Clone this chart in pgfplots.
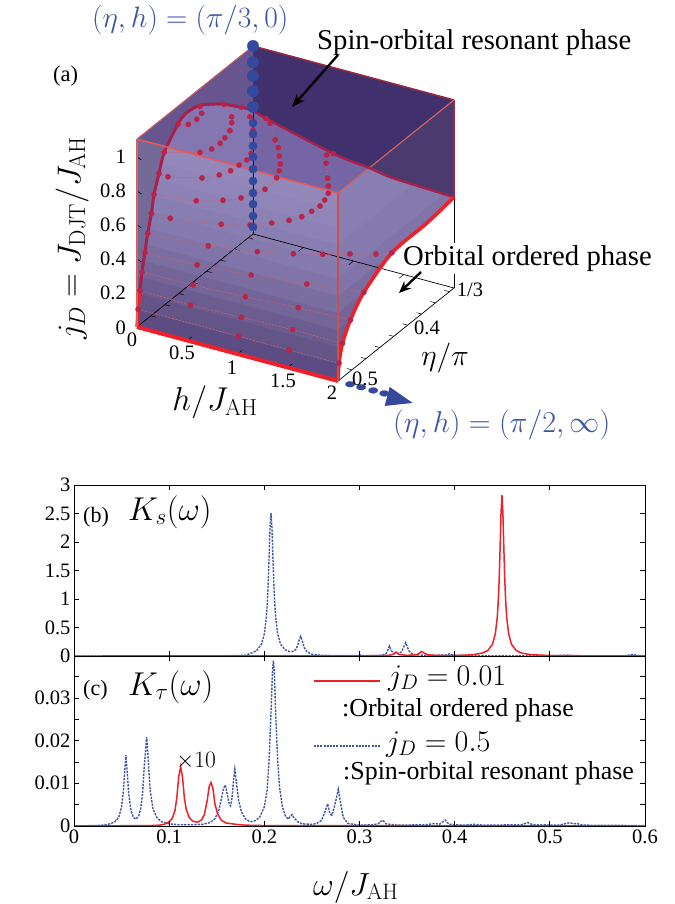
\documentclass[border=0pt]{standalone}
\usepackage{fix-cm}
\usepackage[no-math]{fontspec}
\setmainfont{Liberation Serif}
\usepackage{pgfplots}
\pgfplotsset{compat=1.18}
\usetikzlibrary{arrows.meta}
\definecolor{dkback}{HTML}{41306E}
\definecolor{wedge}{HTML}{66558F}
\definecolor{dkright}{HTML}{4A3A6E}
\definecolor{topmid}{HTML}{7565A5}
\definecolor{toplt}{HTML}{8476B1}
\definecolor{leftov}{HTML}{736A98}
\definecolor{crim}{HTML}{AA1F4C}
\definecolor{dot}{HTML}{B8244A}
\definecolor{hot}{HTML}{F0202A}
\definecolor{blu}{HTML}{34489C}
\definecolor{blt}{HTML}{3D55A5}
\definecolor{lred}{HTML}{D0606F}
\definecolor{edgeF}{HTML}{E8585A}
\definecolor{edgeV}{HTML}{C9504E}
\definecolor{edgeL}{HTML}{D4605F}
\definecolor{edgeB}{HTML}{9C2A3F}
% colour of the wall at height j_D (bands)
\definecolor{b0}{HTML}{5B4D83}
\definecolor{b1}{HTML}{635588}
\definecolor{b2}{HTML}{6B5D90}
\definecolor{b3}{HTML}{736598}
\definecolor{b4}{HTML}{7A6DA0}
\definecolor{b5}{HTML}{8074A8}
\definecolor{b6}{HTML}{857AAD}
\definecolor{b7}{HTML}{897EB1}
\definecolor{b8}{HTML}{8D82B5}
\definecolor{b9}{HTML}{9085B8}
\definecolor{b10}{HTML}{9488BB}
\newcommand{\fs}[1]{\fontsize{#1}{#1}\selectfont}
\pgfplotsset{
 contour/.style={lred,line width=0.6pt,dash pattern=on 2pt off 1.5pt,smooth,tension=0.5,mark=*,mark size=2.7pt,
   mark options={solid,fill=dot,draw=dot,line width=0.2pt}},
 panel/.style={scale only axis,width=571pt,xmin=0,xmax=0.6,xtick={0,0.1,0.2,0.3,0.4,0.5,0.6},
   tick pos=both,tick align=inside,major tick length=5pt,minor tick length=5pt,
   tick style={black,line width=0.7pt},axis line style={line width=1pt},axis on top,
   scaled ticks=false,
   tick label style={font=\fs{20.5}},/pgf/number format/assume math mode=true},
 rl/.style={hot,line width=1.5pt,sharp plot},
 bl/.style={blt,line width=1.4pt,dash pattern=on 2.2pt off 1.2pt,sharp plot},
}
\begin{document}
\begin{tikzpicture}[x=1pt,y=1pt]
\path[use as bounding box] (0pt,0pt) rectangle (674pt,-904pt);

% (a): x = h/J_AH, y = 6(1/2 - eta/pi) (0 at eta=pi/2, 1 at eta=pi/3), z = j_D
\begin{axis}[anchor=origin,at={(137pt,-327pt)},hide axis,clip=false,
  x={(100.5pt,-27pt)},y={(116pt,93pt)},z={(0pt,170pt)},
  xmin=0,xmax=2,ymin=0,ymax=1,zmin=0,zmax=1.106]
% faces
\addplot3[fill=dkback,draw=none] coordinates {(0,1,1.106)(2,1,1.106)(2,1,.535)(1.393,1,.55)(1.16,1,.572)(.8,1,.6)(.13,1,.7)(0,1,.73)};
\addplot3[fill=wedge,draw=none] coordinates {(0,0,1.106)(0,1,1.106)(0,1,.73)(0,.9,.8)(0,.75,.9)(0,.63,.966)(0,.526,1.013)(0,.414,1.026)(0,.353,1.0)(0,.235,.9)(0,.19,.8)(0,.147,.7)(0,.124,.6)(0,.092,.5)(0,.068,.4)(0,.043,.3)(0,.026,.2)(0,.009,.1)(0,0,0)};
\addplot3[fill=dkright,draw=none] coordinates {(2,1,1.106)(2,1,.535)(1.393,1,.55)(1.16,1,.572)};
\addplot3[fill=topmid,draw=none] coordinates {(.289,0,1.106)(0,.25,.915)(0,.353,1.0)(0,.414,1.026)(0,.526,1.013)(0,.63,.966)(0,.75,.9)(0,.9,.8)(0,1,.73)(.13,1,.7)(.8,1,.6)(1.16,1,.572)(2,0,1.106)};
\addplot3[fill=toplt,draw=none] coordinates {(.289,0,1.106)(0,.25,.915)(0,.353,1.0)(0,.414,1.026)(0,.526,1.013)(0,.63,.966)(0,.75,.9)(0,.9,.8)(0,1,.73)(1.154,0,1.106)};
% front wall, bands from the floor up
\addplot3[fill=b0,draw=none] coordinates {(0,0,0)(2,0,0)(2,0,1.106)(0,0,1.106)};
\addplot3[fill=b1,draw=none] coordinates {(0,0,.1)(2,0,.1)(2,0,1.106)(0,0,1.106)};
\addplot3[fill=b2,draw=none] coordinates {(0,0,.2)(2,0,.2)(2,0,1.106)(0,0,1.106)};
\addplot3[fill=b3,draw=none] coordinates {(0,0,.3)(2,0,.3)(2,0,1.106)(0,0,1.106)};
\addplot3[fill=b4,draw=none] coordinates {(0,0,.4)(2,0,.4)(2,0,1.106)(0,0,1.106)};
\addplot3[fill=b5,draw=none] coordinates {(0,0,.5)(2,0,.5)(2,0,1.106)(0,0,1.106)};
\addplot3[fill=b6,draw=none] coordinates {(0,0,.6)(2,0,.6)(2,0,1.106)(0,0,1.106)};
\addplot3[fill=b7,draw=none] coordinates {(0,0,.7)(2,0,.7)(2,0,1.106)(0,0,1.106)};
\addplot3[fill=b8,draw=none] coordinates {(0,0,.8)(2,0,.8)(2,0,1.106)(0,0,1.106)};
\addplot3[fill=b9,draw=none] coordinates {(0,0,.9)(2,0,.9)(2,0,1.106)(0,0,1.106)};
\addplot3[fill=b10,draw=none] coordinates {(0,0,1)(2,0,1)(2,0,1.106)(0,0,1.106)};
\addplot3[fill=leftov,draw=none] coordinates {(0,0,.3)(0,0,1.106)(.289,0,1.106)(0,.25,.915)(0,.235,.9)(0,.19,.8)(0,.147,.7)(0,.124,.6)(0,.092,.5)(0,.068,.4)(0,.043,.3)};
% right wall, bands from the floor up
\addplot3[fill=b0,draw=none] coordinates {(2,0,0)(2,0,1.106)(2,.276,1.106)(2,.474,.935)(2,1,.535)(2,.767,.51)(2,.465,.5)(2,.223,.4)(2,.107,.3)(2,.038,.2)(2,.009,.1)};
\addplot3[fill=b1,draw=none] coordinates {(2,0,.1)(2,0,1.106)(2,.276,1.106)(2,.474,.935)(2,1,.535)(2,.767,.51)(2,.465,.5)(2,.223,.4)(2,.107,.3)(2,.038,.2)(2,.009,.1)};
\addplot3[fill=b2,draw=none] coordinates {(2,0,.2)(2,0,1.106)(2,.276,1.106)(2,.474,.935)(2,1,.535)(2,.767,.51)(2,.465,.5)(2,.223,.4)(2,.107,.3)(2,.038,.2)};
\addplot3[fill=b3,draw=none] coordinates {(2,0,.3)(2,0,1.106)(2,.276,1.106)(2,.474,.935)(2,1,.535)(2,.767,.51)(2,.465,.5)(2,.223,.4)(2,.107,.3)};
\addplot3[fill=b4,draw=none] coordinates {(2,0,.4)(2,0,1.106)(2,.276,1.106)(2,.474,.935)(2,1,.535)(2,.767,.51)(2,.465,.5)(2,.223,.4)};
\addplot3[fill=b5,draw=none] coordinates {(2,0,.5)(2,0,1.106)(2,.276,1.106)(2,.474,.935)(2,1,.535)(2,.767,.51)(2,.465,.5)};
\addplot3[fill=b6,draw=none] coordinates {(2,0,.6)(2,0,1.106)(2,.276,1.106)(2,.474,.935)(2,.915,.6)};
\addplot3[fill=b7,draw=none] coordinates {(2,0,.8)(2,0,1.106)(2,.276,1.106)(2,.474,.935)(2,.652,.8)};
% floor and back lines
\addplot3[black,line width=0.7pt] coordinates {(0,0,0)(0,1,0)(2,1,0)(2,0,0)};
\addplot3[black,line width=0.7pt] coordinates {(2,1,.535)(2,1,.265)};
\addplot3[black,line width=0.7pt] coordinates {(2,1,.085)(2,1,0)};
\addplot3[black,line width=0.7pt] coordinates {(0,1,0)(0,1,.74)};
\pgfplotsinvokeforeach{.12,.24,.36,.48,.6,.72,.84,.96}{
  \draw[black,line width=0.5pt] (axis cs:0,#1,0) -- (axis cs:.05,#1,0);
  \draw[black,line width=0.5pt] (axis cs:2,#1,0) -- (axis cs:1.95,#1,0);
}
\pgfplotsinvokeforeach{.5,1,1.5}{
  \draw[black,line width=0.5pt] (axis cs:#1,1,0) -- (axis cs:#1,.96,0);
  \draw[black,line width=0.5pt] (axis cs:#1,0,0) -- (axis cs:#1,.04,0);
}
\pgfplotsinvokeforeach{.2,.4,.6,.8,1}{
  \draw[black,line width=0.6pt] (axis cs:0,0,#1) -- (axis cs:.06,-.014,#1);
}
% box edges
\addplot3[color=edgeB,line width=1.5pt] coordinates {(0,1,1.106)(2,1,1.106)};
\addplot3[color=edgeB,line width=1.2pt] coordinates {(2,1,1.106)(2,1,.535)};
\addplot3[color=edgeL,line width=1pt] coordinates {(0,0,1.106)(0,1,1.106)};
\addplot3[color=edgeL,line width=1.2pt] coordinates {(2,0,1.106)(2,1,1.106)};
% constant j_D contours
\addplot3[contour] coordinates {(0,.009,.1)(1,.008,.1)(1.505,.007,.1)(2,.009,.1)};
\addplot3[contour] coordinates {(0,.026,.2)(.509,.019,.2)(1.003,.03,.2)(1.5,.041,.2)(2,.038,.2)};
\addplot3[contour] coordinates {(0,.043,.3)(.5,.049,.3)(1,.068,.3)(1.497,.094,.3)(2,.107,.3)};
\addplot3[contour] coordinates {(0,.068,.4)(.503,.082,.4)(1,.118,.4)(1.497,.166,.4)(2,.223,.4)};
\addplot3[contour] coordinates {(0,.092,.5)(.566,.124,.5)(.987,.182,.5)(1.274,.244,.5)(1.498,.303,.5)(1.699,.364,.5)(1.893,.42,.5)(2,.465,.5)};
\addplot3[contour] coordinates {(0,.124,.6)(.186,.126,.6)(.621,.188,.6)(.842,.245,.6)(.985,.307,.6)(1.089,.367,.6)(1.151,.423,.6)(1.175,.488,.6)(1.187,.549,.6)(1.167,.607,.6)(1.131,.669,.6)(1.063,.728,.6)(.987,.789,.6)(.835,.906,.6)(.763,.974,.6)(.8,1,.6)};
\addplot3[contour] coordinates {(0,.147,.7)(.374,.187,.7)(.569,.248,.7)(.682,.306,.7)(.78,.428,.7)(.759,.546,.7)(.714,.608,.7)(.659,.664,.7)(.578,.727,.7)(.492,.792,.7)(.397,.847,.7)(.204,.97,.7)(.13,1,.7)};
\addplot3[contour] coordinates {(0,.19,.8)(.098,.182,.8)(.363,.246,.8)(.464,.307,.8)(.509,.366,.8)(.52,.43,.8)(.53,.487,.8)(.5,.551,.8)(.298,.742,.8)(.151,.843,.8)(0,.9,.8)};
\addplot3[contour] coordinates {(0,.235,.9)(.268,.311,.9)(.325,.363,.9)(.334,.427,.9)(.319,.482,.9)(.29,.55,.9)(.229,.618,.9)(.173,.666,.9)(0,.75,.9)};
\addplot3[contour] coordinates {(0,.353,1)(.078,.374,1)(.095,.433,1)(.076,.492,1)(0,.543,1)};
% phase boundaries
\addplot3[hot,line width=3.4pt] coordinates {(0,.026,.2)(0,.009,.1)(0,0,0)};
\addplot3[crim,line width=3pt,smooth,tension=0.5] coordinates {(0,.026,.2)(0,.043,.3)(0,.068,.4)(0,.092,.5)(0,.124,.6)(0,.147,.7)(0,.19,.8)(0,.235,.9)(0,.353,1.0)(0,.414,1.026)(0,.526,1.013)(0,.63,.966)(0,.75,.9)(0,.9,.8)(0,1,.73)};
\addplot3[crim,line width=2.4pt,smooth,tension=0.5] coordinates {(0,1,.73)(.13,1,.7)(.8,1,.6)(1.16,1,.572)(1.393,1,.55)(2,1,.535)};
\addplot3[hot,line width=3.6pt,smooth,tension=0.5] coordinates {(2,1,.535)(2,.767,.51)(2,.465,.5)(2,.223,.4)(2,.107,.3)(2,.038,.2)(2,.009,.1)(2,0,0)};
\addplot3[hot,line width=4pt] coordinates {(0,0,0)(2,0,0)};
% front edges, above the boundaries
\addplot3[color=edgeF,line width=1.6pt] coordinates {(0,0,1.106)(2,0,1.106)};
\addplot3[color=edgeV,line width=2.8pt] coordinates {(2,0,1.106)(2,0,0)};
\addplot3[color=edgeL,line width=1.8pt] coordinates {(0,0,1.106)(0,0,0)};
% dots on the line (eta,h)=(pi/3,0)
\addplot3[only marks,mark=*,mark size=4.2pt,mark options={fill=blu,draw=blu,line width=0.2pt}] coordinates {(0,1,.041)(0,1,.106)(0,1,.176)(0,1,.241)(0,1,.312)(0,1,.382)(0,1,.453)(0,1,.518)(0,1,.588)(0,1,.653)};
\addplot3[only marks,mark=*,mark size=5.8pt,mark options={fill=blu,draw=blu,line width=0.2pt}] coordinates {(0,1,.747)(0,1,.84)(0,1,.93)(0,1,1.01)(0,1,1.106)};
% dots towards (eta,h)=(pi/2,infinity)
\addplot3[only marks,mark=*,mark size=3pt,mark options={fill=blu,draw=blu,line width=0.2pt,xscale=1.6,rotate=15}] coordinates {(2.12,0,0)(2.23,0,0)(2.35,0,0)(2.46,0,0)};
\addplot3[fill=blu,draw=none] coordinates {(2.44,.064,0)(2.76,-.015,0)(2.58,-.1,0)};
\end{axis}

% (a): axis texts
\begin{scope}[every node/.style={inner sep=0pt,font=\fs{20.5}}]
\node[anchor=east] at (126pt,-157pt) {1};
\node[anchor=east] at (126pt,-191pt) {0.8};
\node[anchor=east] at (126pt,-225pt) {0.6};
\node[anchor=east] at (126pt,-259pt) {0.4};
\node[anchor=east] at (126pt,-293pt) {0.2};
\node[anchor=east] at (126pt,-328pt) {0};
\node at (132pt,-340pt) {0};
\node at (182pt,-353pt) {0.5};
\node at (232pt,-368pt) {1};
\node at (283pt,-381pt) {1.5};
\node at (332pt,-393pt) {2};
\node at (470pt,-290pt) {1/3};
\node at (427pt,-328pt) {0.4};
\node at (365pt,-379pt) {0.5};
\node[anchor=base west,font=\fs{22.5}] at (53pt,-82pt) {(a)};
\node[font=\fs{33},rotate=90] at (72pt,-238pt) {$j_D=J_{\mathrm{DJT}}/J_{\mathrm{AH}}$};
\node[font=\fs{33}] at (215pt,-402pt) {$h/J_{\mathrm{AH}}$};
\node[font=\fs{30}] at (445pt,-358pt) {$\eta/\pi$};
\node[anchor=base west,font=\fs{29.5},text=blt] at (92pt,-28pt) {$(\eta,h)=(\pi/3,0)$};
\node[anchor=base west,font=\fs{30.2},text=blt] at (393pt,-432pt) {$(\eta,h)=(\pi/2,\infty)$};
\node[anchor=base west,font=\fs{28.7}] at (317pt,-50pt) {Spin-orbital resonant phase};
\node[anchor=base west,font=\fs{28.7}] at (403pt,-265pt) {Orbital ordered phase};
\end{scope}
\draw[-{Stealth[length=13pt,width=10pt]},line width=2.3pt] (338pt,-55pt) -- (292pt,-107pt);
\draw[-{Stealth[length=12pt,width=10pt]},line width=2.3pt] (421pt,-272pt) -- (399pt,-293pt);

% (b)
\begin{axis}[panel,anchor=north west,at={(74pt,-485pt)},height=171pt,ymin=0,ymax=3,
  ytick={0,0.5,1,1.5,2,2.5,3},yticklabels={0,0.5,1,1.5,2,2.5,3},xticklabels={}]
\addplot[bl] coordinates {(0,0)(.1,.001)(.15,.003)(.17,.008)(.18,.013)(.187,.055)(.192,.0965)(.197,.207)(.2,.39)(.202,.664)(.203,.90)(.204,1.255)(.205,1.74)(.206,2.26)(.207,2.51)(.208,2.26)(.209,1.74)(.21,1.255)(.211,.90)(.212,.664)(.214,.39)(.217,.207)(.222,.107)(.227,.076)(.23,.08)(.233,.113)(.235,.18)(.237,.30)(.2382,.345)(.24,.257)(.242,.143)(.245,.07)(.25,.031)(.26,.012)(.28,.006)(.298,.008)(.3005,.02)(.303,.008)(.32,.008)(.325,.02)(.328,.045)(.33,.11)(.3314,.175)(.333,.11)(.335,.06)(.337,.04)(.34,.04)(.344,.07)(.346,.14)(.3485,.235)(.35,.17)(.352,.09)(.355,.04)(.36,.02)(.37,.012)(.39,.015)(.395,.04)(.398,.015)(.42,.005)(.5,.005)(.52,.015)(.525,.005)(.58,.005)(.5875,.03)(.592,.008)(.6,.005)};
\addplot[rl] coordinates {(0,0)(.3,.001)(.33,.01)(.335,.025)(.3385,.07)(.342,.025)(.35,.012)(.36,.02)(.363,.05)(.3653,.08)(.368,.05)(.372,.02)(.38,.012)(.39,.008)(.3997,.009)(.4097,.014)(.4197,.024)(.4297,.054)(.4347,.095)(.4397,.205)(.4427,.39)(.4447,.67)(.4457,.93)(.4467,1.31)(.4477,1.87)(.4487,2.50)(.4497,2.82)(.4507,2.50)(.4517,1.87)(.4527,1.31)(.4537,.93)(.4547,.67)(.4567,.39)(.4597,.205)(.4647,.095)(.4697,.054)(.4797,.024)(.4997,.009)(.55,.002)(.6,.001)};
\end{axis}

% (c)
\begin{axis}[panel,anchor=north west,at={(74pt,-656pt)},height=170pt,ymin=0,ymax=.0398,
  ytick={0,.01,.02,.03},yticklabels={0,0.01,0.02,0.03},minor ytick={.005,.015,.025,.035},
  xticklabels={0,0.1,0.2,0.3,0.4,0.5,0.6}]
\addplot[bl] coordinates {(0,0)(.02,.0001)(.03,.0002)(.038,.0005)(.043,.001)(.047,.002)(.05,.0045)(.052,.0085)(.0535,.0135)(.0546,.0166)(.056,.0125)(.0575,.0075)(.06,.0035)(.0625,.002)(.0652,.0016)(.068,.0024)(.07,.004)(.072,.0075)(.074,.0145)(.0764,.0208)(.078,.0155)(.08,.0085)(.083,.004)(.087,.002)(.092,.001)(.1,.0005)(.11,.0003)(.125,.0003)(.135,.0004)(.143,.0008)(.148,.0017)(.152,.0035)(.155,.0065)(.157,.0087)(.159,.0096)(.161,.0075)(.163,.0052)(.1645,.0047)(.166,.0065)(.168,.0115)(.169,.0133)(.171,.0095)(.173,.006)(.176,.0033)(.18,.0017)(.185,.001)(.19,.0012)(.195,.002)(.2,.0045)(.203,.0085)(.205,.0155)(.207,.0265)(.2085,.036)(.2095,.0387)(.2105,.036)(.212,.026)(.214,.0155)(.216,.009)(.219,.0045)(.222,.0024)(.225,.0016)(.227,.0022)(.2291,.0027)(.231,.002)(.235,.001)(.24,.0005)(.25,.0004)(.255,.0006)(.26,.0013)(.2635,.0032)(.2665,.0052)(.269,.0028)(.271,.0025)(.274,.0048)(.2777,.0086)(.28,.0055)(.283,.002)(.288,.0006)(.3,.0002)(.315,.0003)(.32,.0006)(.3243,.0014)(.328,.0005)(.34,.0002)(.37,.0003)(.3793,.0006)(.384,.0004)(.39,.0014)(.394,.0004)(.41,.0002)(.421,.0004)(.43,.0002)(.47,.0003)(.477,.0008)(.482,.0003)(.51,.0002)(.521,.0008)(.525,.0005)(.528,.0006)(.535,.0002)(.6,.0001)};
\addplot[rl] coordinates {(0,0)(.08,.0001)(.09,.0002)(.095,.0004)(.1,.001)(.103,.0017)(.106,.0035)(.108,.0065)(.11,.0115)(.1121,.0139)(.114,.0115)(.116,.0065)(.118,.0038)(.121,.002)(.125,.0011)(.13,.0009)(.134,.0014)(.137,.0027)(.14,.006)(.142,.0092)(.144,.0102)(.146,.0088)(.148,.0052)(.151,.0028)(.155,.0013)(.16,.0007)(.17,.0004)(.18,.0002)(.2,.0001)(.6,0)};
\addplot[hot,line width=1.8pt] coordinates {(.2522,.03403)(.3215,.03403)};
\addplot[blt,line width=1.2pt,dash pattern=on 2pt off 1.2pt] coordinates {(.2522,.01874)(.3215,.01874)};
\end{axis}

\begin{scope}[every node/.style={inner sep=0pt,anchor=base west}]
\node[font=\fs{22}] at (83pt,-522pt) {(b)};
\node[font=\fs{33}] at (128pt,-520pt) {$K_s(\omega)$};
\node[font=\fs{22}] at (83pt,-695pt) {(c)};
\node[font=\fs{33}] at (128pt,-695pt) {$K_\tau(\omega)$};
\node[font=\fs{23.5}] at (176pt,-767pt) {$\times 10$};
\node[font=\fs{30}] at (388pt,-685pt) {$j_D=0.01$};
\node[font=\fs{25.9}] at (342pt,-716pt) {:Orbital ordered phase};
\node[font=\fs{30}] at (386pt,-751pt) {$j_D=0.5$};
\node[font=\fs{25.9}] at (343pt,-779pt) {:Spin-orbital resonant phase};
\node[font=\fs{32}] at (313pt,-895pt) {$\omega/J_{\mathrm{AH}}$};
\end{scope}
\end{tikzpicture}
\end{document}
